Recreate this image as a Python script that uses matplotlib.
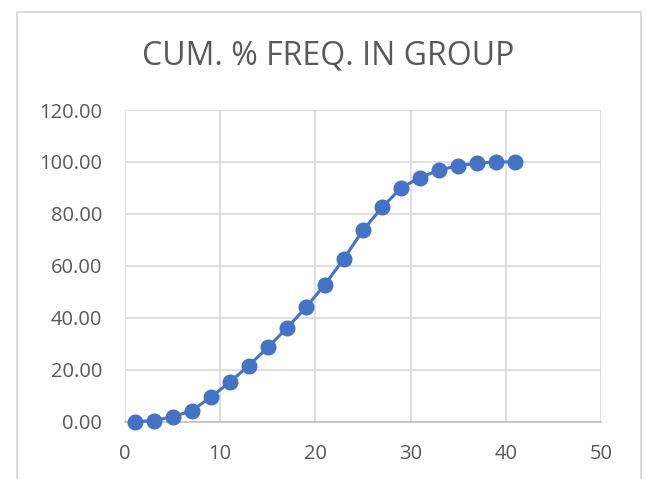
import matplotlib
matplotlib.use("Agg")
import matplotlib.pyplot as plt
from matplotlib.patches import Rectangle

x_values = [1, 3, 5, 7, 9, 11, 13, 15, 17, 19, 21, 23, 25, 27, 29, 31, 33, 35, 37, 39, 41]
cum_pct = [0.0, 0.4, 1.9, 4.2, 9.4, 15.2, 21.6, 28.6, 36.0, 44.0, 52.8, 62.8, 73.7,
           82.5, 90.0, 94.0, 96.9, 98.5, 99.6, 100.0, 100.0]
x_ticks = [0, 10, 20, 30, 40, 50]
y_ticks = [0, 20, 40, 60, 80, 100, 120]
title = "CUM. % FREQ. IN GROUP"

plt.rcParams['font.family'] = ['Open Sans', 'DejaVu Sans']
text_color = '#595959'

fig = plt.figure(figsize=(6.47, 4.79), dpi=100)
fig.patch.set_facecolor('white')
fig.patches.append(Rectangle((17/647, -0.01), (640.5-17)/647, 1 - 12/479 + 0.01,
                             transform=fig.transFigure, fill=False,
                             edgecolor='#D9D9D9', linewidth=1.3))

ax = fig.add_axes([125/647, 1 - 421.7/479, (601-125)/647, (421.7-110)/479])
ax.plot(x_values, cum_pct, color='#4472C4', linewidth=2.2, marker='o',
        markersize=10.5, markerfacecolor='#4472C4', markeredgecolor='#4472C4',
        clip_on=False, zorder=3)
ax.set_xlim(0, 50)
ax.set_ylim(0, 120)
ax.set_xticks(x_ticks)
ax.set_yticks(y_ticks)
ax.set_yticklabels([f"{v:.2f}" for v in y_ticks])
ax.grid(True, color='#D9D9D9', linewidth=1.2)
ax.set_axisbelow(True)
for s in ['top', 'right', 'left']:
    ax.spines[s].set_visible(False)
ax.spines['bottom'].set_color('#BFBFBF')
ax.spines['bottom'].set_linewidth(1.2)
ax.tick_params(axis='both', length=0, labelsize=14.5, labelcolor=text_color)
ax.tick_params(axis='x', pad=16)
ax.tick_params(axis='y', pad=16.5)
fig.text(0.508, 1 - 56.5/479, title, ha='center', va='center', fontsize=23, color=text_color)

fig.savefig('out.png', dpi=100)
